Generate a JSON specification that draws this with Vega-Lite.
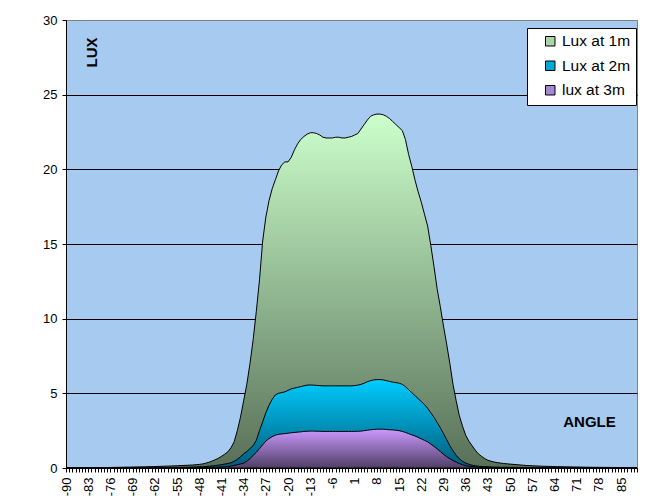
{
  "$schema": "https://vega.github.io/schema/vega-lite/v6.json",
  "autosize": {"type": "none"},
  "width": 571,
  "height": 448,
  "padding": {"left": 66, "top": 20, "right": 10, "bottom": 32},
  "background": "white",
  "config": {
    "view": {"fill": "#a6caf0", "stroke": "#808080", "strokeWidth": 1},
    "axis": {"domainColor": "black", "tickColor": "black", "labelColor": "black", "labelFont": "Liberation Sans", "titleFont": "Liberation Sans", "titleColor": "black"},
    "legend": {"labelFont": "Liberation Sans"}
  },
  "data": {"values": [
    {"a": -90, "l1": 0, "l2": 0, "l3": 0},
    {"a": -85, "l1": 0.01, "l2": 0, "l3": 0},
    {"a": -80, "l1": 0.02, "l2": 0, "l3": 0},
    {"a": -75, "l1": 0.04, "l2": 0.005, "l3": 0},
    {"a": -70, "l1": 0.06, "l2": 0.01, "l3": 0},
    {"a": -65, "l1": 0.08, "l2": 0.015, "l3": 0.005},
    {"a": -60, "l1": 0.11, "l2": 0.02, "l3": 0.01},
    {"a": -55, "l1": 0.15, "l2": 0.04, "l3": 0.015},
    {"a": -50, "l1": 0.2, "l2": 0.06, "l3": 0.02},
    {"a": -49, "l1": 0.22, "l2": 0.07, "l3": 0.02},
    {"a": -48, "l1": 0.24, "l2": 0.08, "l3": 0.025},
    {"a": -47, "l1": 0.27, "l2": 0.09, "l3": 0.03},
    {"a": -46, "l1": 0.32, "l2": 0.1, "l3": 0.035},
    {"a": -45, "l1": 0.38, "l2": 0.12, "l3": 0.04},
    {"a": -44, "l1": 0.46, "l2": 0.14, "l3": 0.045},
    {"a": -43, "l1": 0.55, "l2": 0.16, "l3": 0.05},
    {"a": -42, "l1": 0.65, "l2": 0.19, "l3": 0.06},
    {"a": -41, "l1": 0.78, "l2": 0.22, "l3": 0.07},
    {"a": -40, "l1": 0.92, "l2": 0.26, "l3": 0.08},
    {"a": -39, "l1": 1.08, "l2": 0.3, "l3": 0.1},
    {"a": -38, "l1": 1.35, "l2": 0.35, "l3": 0.13},
    {"a": -37, "l1": 1.75, "l2": 0.45, "l3": 0.17},
    {"a": -36, "l1": 2.5, "l2": 0.58, "l3": 0.22},
    {"a": -35, "l1": 3.4, "l2": 0.75, "l3": 0.27},
    {"a": -34, "l1": 4.5, "l2": 0.95, "l3": 0.32},
    {"a": -33, "l1": 5.6, "l2": 1.1, "l3": 0.45},
    {"a": -32, "l1": 7.0, "l2": 1.3, "l3": 0.62},
    {"a": -31, "l1": 8.6, "l2": 1.5, "l3": 0.85},
    {"a": -30, "l1": 10.5, "l2": 1.85, "l3": 1.05},
    {"a": -29, "l1": 12.6, "l2": 2.5, "l3": 1.3},
    {"a": -28, "l1": 15.2, "l2": 3.1, "l3": 1.55},
    {"a": -27, "l1": 16.8, "l2": 3.7, "l3": 1.8},
    {"a": -26, "l1": 17.9, "l2": 4.2, "l3": 1.97},
    {"a": -25, "l1": 18.7, "l2": 4.6, "l3": 2.1},
    {"a": -24, "l1": 19.3, "l2": 4.9, "l3": 2.2},
    {"a": -23, "l1": 19.9, "l2": 5.0, "l3": 2.25},
    {"a": -22, "l1": 20.3, "l2": 5.05, "l3": 2.28},
    {"a": -21, "l1": 20.5, "l2": 5.1, "l3": 2.3},
    {"a": -20, "l1": 20.5, "l2": 5.2, "l3": 2.33},
    {"a": -19, "l1": 20.8, "l2": 5.3, "l3": 2.36},
    {"a": -18, "l1": 21.3, "l2": 5.35, "l3": 2.38},
    {"a": -17, "l1": 21.7, "l2": 5.4, "l3": 2.4},
    {"a": -16, "l1": 22.0, "l2": 5.45, "l3": 2.42},
    {"a": -15, "l1": 22.2, "l2": 5.5, "l3": 2.45},
    {"a": -14, "l1": 22.35, "l2": 5.55, "l3": 2.46},
    {"a": -13, "l1": 22.45, "l2": 5.56, "l3": 2.47},
    {"a": -12, "l1": 22.45, "l2": 5.55, "l3": 2.47},
    {"a": -11, "l1": 22.4, "l2": 5.53, "l3": 2.46},
    {"a": -10, "l1": 22.3, "l2": 5.52, "l3": 2.46},
    {"a": -9, "l1": 22.15, "l2": 5.5, "l3": 2.45},
    {"a": -8, "l1": 22.1, "l2": 5.5, "l3": 2.45},
    {"a": -7, "l1": 22.1, "l2": 5.5, "l3": 2.45},
    {"a": -6, "l1": 22.1, "l2": 5.5, "l3": 2.45},
    {"a": -5, "l1": 22.15, "l2": 5.5, "l3": 2.45},
    {"a": -4, "l1": 22.15, "l2": 5.5, "l3": 2.45},
    {"a": -3, "l1": 22.1, "l2": 5.5, "l3": 2.45},
    {"a": -2, "l1": 22.1, "l2": 5.5, "l3": 2.45},
    {"a": -1, "l1": 22.15, "l2": 5.5, "l3": 2.45},
    {"a": 0, "l1": 22.2, "l2": 5.5, "l3": 2.45},
    {"a": 1, "l1": 22.3, "l2": 5.52, "l3": 2.45},
    {"a": 2, "l1": 22.4, "l2": 5.55, "l3": 2.46},
    {"a": 3, "l1": 22.7, "l2": 5.6, "l3": 2.47},
    {"a": 4, "l1": 23.0, "l2": 5.68, "l3": 2.5},
    {"a": 5, "l1": 23.3, "l2": 5.78, "l3": 2.53},
    {"a": 6, "l1": 23.55, "l2": 5.85, "l3": 2.56},
    {"a": 7, "l1": 23.65, "l2": 5.9, "l3": 2.58},
    {"a": 8, "l1": 23.7, "l2": 5.92, "l3": 2.6},
    {"a": 9, "l1": 23.7, "l2": 5.92, "l3": 2.6},
    {"a": 10, "l1": 23.65, "l2": 5.9, "l3": 2.6},
    {"a": 11, "l1": 23.55, "l2": 5.85, "l3": 2.58},
    {"a": 12, "l1": 23.4, "l2": 5.8, "l3": 2.56},
    {"a": 13, "l1": 23.2, "l2": 5.75, "l3": 2.55},
    {"a": 14, "l1": 23.0, "l2": 5.72, "l3": 2.53},
    {"a": 15, "l1": 22.8, "l2": 5.68, "l3": 2.5},
    {"a": 16, "l1": 22.6, "l2": 5.6, "l3": 2.45},
    {"a": 17, "l1": 22.0, "l2": 5.45, "l3": 2.38},
    {"a": 18, "l1": 21.0, "l2": 5.25, "l3": 2.3},
    {"a": 19, "l1": 20.2, "l2": 5.05, "l3": 2.22},
    {"a": 20, "l1": 19.3, "l2": 4.85, "l3": 2.15},
    {"a": 21, "l1": 18.5, "l2": 4.65, "l3": 2.05},
    {"a": 22, "l1": 17.8, "l2": 4.45, "l3": 1.95},
    {"a": 23, "l1": 17.0, "l2": 4.25, "l3": 1.85},
    {"a": 24, "l1": 16.2, "l2": 4.0, "l3": 1.75},
    {"a": 25, "l1": 14.9, "l2": 3.7, "l3": 1.6},
    {"a": 26, "l1": 13.5, "l2": 3.4, "l3": 1.45},
    {"a": 27, "l1": 12.0, "l2": 3.05, "l3": 1.28},
    {"a": 28, "l1": 10.8, "l2": 2.7, "l3": 1.1},
    {"a": 29, "l1": 9.5, "l2": 2.3, "l3": 0.92},
    {"a": 30, "l1": 8.3, "l2": 1.9, "l3": 0.76},
    {"a": 31, "l1": 7.0, "l2": 1.5, "l3": 0.62},
    {"a": 32, "l1": 5.6, "l2": 1.15, "l3": 0.5},
    {"a": 33, "l1": 4.5, "l2": 0.85, "l3": 0.4},
    {"a": 34, "l1": 3.5, "l2": 0.62, "l3": 0.3},
    {"a": 35, "l1": 2.8, "l2": 0.45, "l3": 0.22},
    {"a": 36, "l1": 2.2, "l2": 0.33, "l3": 0.16},
    {"a": 37, "l1": 1.8, "l2": 0.25, "l3": 0.12},
    {"a": 38, "l1": 1.5, "l2": 0.19, "l3": 0.1},
    {"a": 39, "l1": 1.2, "l2": 0.15, "l3": 0.08},
    {"a": 40, "l1": 0.95, "l2": 0.12, "l3": 0.06},
    {"a": 41, "l1": 0.78, "l2": 0.1, "l3": 0.05},
    {"a": 42, "l1": 0.63, "l2": 0.09, "l3": 0.045},
    {"a": 43, "l1": 0.52, "l2": 0.08, "l3": 0.04},
    {"a": 44, "l1": 0.45, "l2": 0.07, "l3": 0.035},
    {"a": 45, "l1": 0.4, "l2": 0.06, "l3": 0.03},
    {"a": 46, "l1": 0.36, "l2": 0.06, "l3": 0.028},
    {"a": 47, "l1": 0.33, "l2": 0.05, "l3": 0.025},
    {"a": 48, "l1": 0.3, "l2": 0.05, "l3": 0.022},
    {"a": 49, "l1": 0.28, "l2": 0.05, "l3": 0.02},
    {"a": 50, "l1": 0.26, "l2": 0.04, "l3": 0.02},
    {"a": 55, "l1": 0.17, "l2": 0.03, "l3": 0.015},
    {"a": 60, "l1": 0.12, "l2": 0.02, "l3": 0.01},
    {"a": 65, "l1": 0.09, "l2": 0.015, "l3": 0.005},
    {"a": 70, "l1": 0.07, "l2": 0.01, "l3": 0},
    {"a": 75, "l1": 0.05, "l2": 0.005, "l3": 0},
    {"a": 80, "l1": 0.04, "l2": 0, "l3": 0},
    {"a": 85, "l1": 0.03, "l2": 0, "l3": 0},
    {"a": 90, "l1": 0.02, "l2": 0, "l3": 0}
  ]},
  "encoding": {
    "x": {
      "field": "a", "type": "quantitative",
      "scale": {"domain": [-90, 90], "nice": false, "zero": false},
      "axis": {
        "values": [-90,-89,-88,-87,-86,-85,-84,-83,-82,-81,-80,-79,-78,-77,-76,-75,-74,-73,-72,-71,-70,-69,-68,-67,-66,-65,-64,-63,-62,-61,-60,-59,-58,-57,-56,-55,-54,-53,-52,-51,-50,-49,-48,-47,-46,-45,-44,-43,-42,-41,-40,-39,-38,-37,-36,-35,-34,-33,-32,-31,-30,-29,-28,-27,-26,-25,-24,-23,-22,-21,-20,-19,-18,-17,-16,-15,-14,-13,-12,-11,-10,-9,-8,-7,-6,-5,-4,-3,-2,-1,0,1,2,3,4,5,6,7,8,9,10,11,12,13,14,15,16,17,18,19,20,21,22,23,24,25,26,27,28,29,30,31,32,33,34,35,36,37,38,39,40,41,42,43,44,45,46,47,48,49,50,51,52,53,54,55,56,57,58,59,60,61,62,63,64,65,66,67,68,69,70,71,72,73,74,75,76,77,78,79,80,81,82,83,84,85,86,87,88,89,90],
        "labelExpr": "(datum.value + 90) % 7 === 0 ? '' + datum.value : ''",
        "labelAngle": -90,
        "labelFontSize": 13,
        "labelOverlap": false,
        "labelFlush": false,
        "labelPadding": 5,
        "tickSize": 4,
        "grid": false,
        "title": "ANGLE",
        "titleX": 523,
        "titleY": -47,
        "titleFontSize": 15,
        "titleFontWeight": "bold",
        "titleAlign": "center",
        "titleBaseline": "middle"
      }
    }
  },
  "layer": [
    {
      "mark": {"type": "area", "interpolate": "linear", "stroke": "black", "strokeWidth": 1,
        "fill": {"gradient": "linear", "x1": 0, "y1": 0, "x2": 0, "y2": 1, "stops": [{"offset": 0, "color": "#ccffcc"}, {"offset": 1, "color": "#587058"}]}},
      "encoding": {
        "y": {"field": "l1", "type": "quantitative", "title": "LUX",
          "scale": {"domain": [0, 30], "nice": false},
          "axis": {
            "values": [0, 5, 10, 15, 20, 25, 30],
            "grid": true,
            "gridColor": {"condition": {"test": "datum.value === 30", "value": "#808080"}, "value": "black"},
            "gridWidth": 1,
            "tickSize": 4,
            "labelPadding": 5,
            "labelFontSize": 13,
            "labelFlush": false,
            "title": "LUX",
            "titleX": 25,
            "titleY": 32,
            "titleAngle": -90,
            "titleFontSize": 15,
            "titleFontWeight": "bold",
            "titleAlign": "center",
            "titleBaseline": "middle"
          }
        }
      }
    },
    {
      "mark": {"type": "area", "interpolate": "linear", "stroke": "black", "strokeWidth": 1,
        "fill": {"gradient": "linear", "x1": 0, "y1": 0, "x2": 0, "y2": 1, "stops": [{"offset": 0, "color": "#00ccff"}, {"offset": 1, "color": "#005a78"}]}},
      "encoding": {
        "y": {"field": "l2", "type": "quantitative", "title": "LUX"}
      }
    },
    {
      "mark": {"type": "area", "interpolate": "linear", "stroke": "black", "strokeWidth": 1,
        "fill": {"gradient": "linear", "x1": 0, "y1": 0, "x2": 0, "y2": 1, "stops": [{"offset": 0, "color": "#cc99ff"}, {"offset": 1, "color": "#4f3f66"}]}},
      "encoding": {
        "y": {"field": "l3", "type": "quantitative", "title": "LUX"}
      }
    },
    {
      "transform": [{"fold": ["l1", "l2", "l3"], "as": ["series", "v"]}],
      "mark": {"type": "square", "opacity": 0, "stroke": "black", "strokeWidth": 1},
      "encoding": {
        "y": {"field": "v", "type": "quantitative", "title": "LUX"},
        "color": {
          "field": "series", "type": "nominal",
          "scale": {"domain": ["l1", "l2", "l3"], "range": ["#a8d6a8", "#00a8da", "#a886d6"]},
          "legend": {
            "title": null,
            "orient": "none",
            "legendX": 461,
            "legendY": 8,
            "fillColor": "white",
            "strokeColor": "black",
            "padding": 5.5,
            "symbolOffset": 10,
            "labelOffset": 4,
            "rowPadding": 7.5,
            "labelFontSize": 15.5,
            "labelColor": "black",
            "symbolType": "square",
            "symbolSize": 90,
            "symbolOpacity": 1,
            "symbolStrokeColor": "black",
            "symbolStrokeWidth": 1,
            "labelExpr": "datum.value === 'l1' ? 'Lux at 1m' : datum.value === 'l2' ? 'Lux at 2m' : 'lux at 3m'"
          }
        }
      }
    }
  ]
}
